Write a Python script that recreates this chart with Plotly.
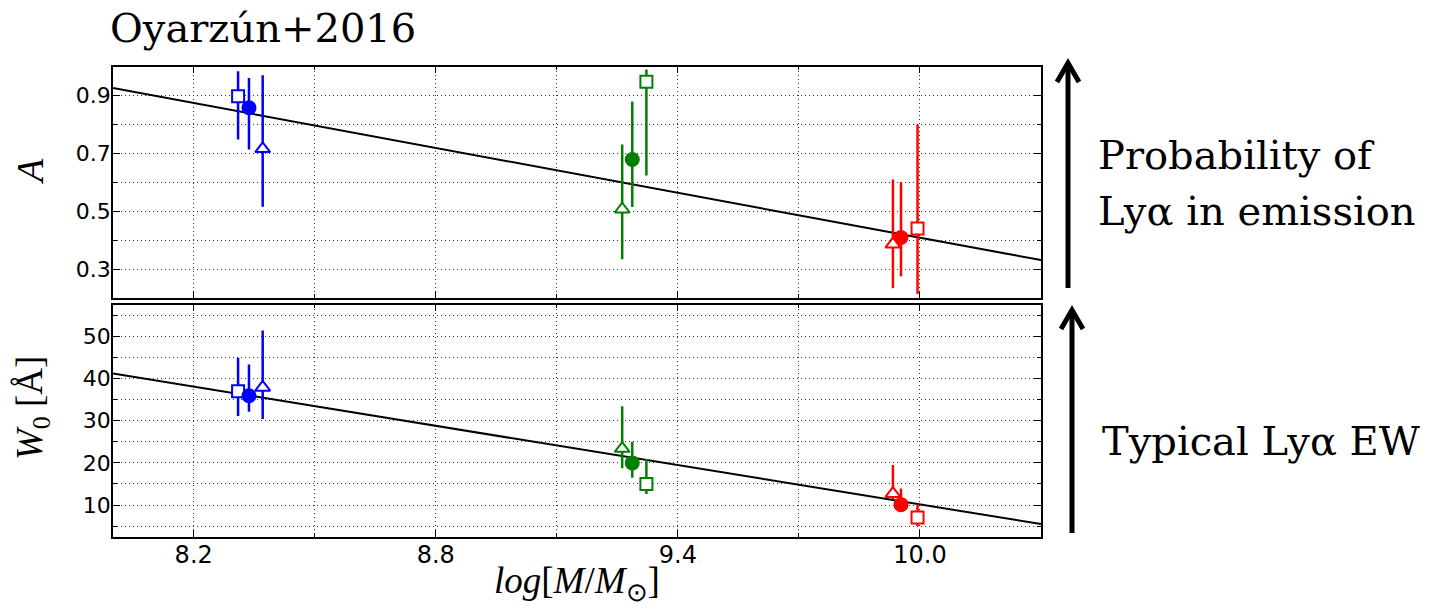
import plotly.graph_objects as go

# ---- data ---------------------------------------------------------------
bin_colors = ["#0000ff", "#008000", "#ff0000"]

# stellar mass of each bin for the three samples
logM_square = [8.310, 9.322, 9.994]
logM_circle = [8.337, 9.287, 9.953]
logM_triangle = [8.371, 9.262, 9.933]

# A : fraction of Lya emitters
A_square = [0.898, 0.948, 0.440]
A_square_hi = [0.984, 0.990, 0.800]
A_square_lo = [0.748, 0.624, 0.214]
A_circle = [0.858, 0.679, 0.409]
A_circle_hi = [0.961, 0.880, 0.601]
A_circle_lo = [0.714, 0.515, 0.275]
A_triangle = [0.716, 0.507, 0.386]
A_triangle_hi = [0.970, 0.731, 0.610]
A_triangle_lo = [0.516, 0.334, 0.234]

# W0 : e-folding rest-frame equivalent width [Angstrom]
W_square = [37.0, 15.0, 7.05]
W_square_hi = [44.9, 20.9, 10.2]
W_square_lo = [31.1, 12.6, 5.0]
W_circle = [35.9, 20.0, 10.1]
W_circle_hi = [43.3, 25.0, 13.9]
W_circle_lo = [32.1, 16.5, 8.8]
W_triangle = [37.9, 23.4, 12.7]
W_triangle_hi = [51.4, 33.4, 19.5]
W_triangle_lo = [30.4, 18.7, 11.4]

# linear relations with mass
fit_logM = [8.0, 10.3]
A_fit = [0.926, 0.331]
W_fit = [41.2, 5.5]

x_ticks = [8.2, 8.8, 9.4, 10.0]
x_ticktext = ["8.2", "8.8", "9.4", "10.0"]
A_ticks = [0.3, 0.5, 0.7, 0.9]
W_ticks = [10, 20, 30, 40, 50]

# ---- layout helpers -------------------------------------------------------
FW, FH = 1429, 609


def px(x):
    return x / FW


def py(y):
    return 1 - y / FH


fig = go.Figure()

samples_A = [
    (logM_square, A_square, A_square_hi, A_square_lo, "square", 12),
    (logM_circle, A_circle, A_circle_hi, A_circle_lo, "circle", 15),
    (logM_triangle, A_triangle, A_triangle_hi, A_triangle_lo, "triangle-up", 13),
]
samples_W = [
    (logM_square, W_square, W_square_hi, W_square_lo, "square", 12),
    (logM_circle, W_circle, W_circle_hi, W_circle_lo, "circle", 15),
    (logM_triangle, W_triangle, W_triangle_hi, W_triangle_lo, "triangle-up", 13),
]

# fit lines first so the points sit on top
fig.add_trace(go.Scatter(x=fit_logM, y=A_fit, mode="lines",
                         line=dict(color="black", width=2),
                         xaxis="x", yaxis="y", showlegend=False))
fig.add_trace(go.Scatter(x=fit_logM, y=W_fit, mode="lines",
                         line=dict(color="black", width=2),
                         xaxis="x2", yaxis="y2", showlegend=False))


def add_points(samples, xa, ya):
    for xs, ys, his, los, sym, size in samples:
        for i, c in enumerate(bin_colors):
            filled = sym == "circle"
            fig.add_trace(go.Scatter(
                x=[xs[i]], y=[ys[i]], mode="markers",
                marker=dict(symbol=sym, size=size,
                            color=c if filled else "white",
                            line=dict(color=c, width=0 if filled else 2)),
                error_y=dict(type="data", symmetric=False,
                             array=[his[i] - ys[i]],
                             arrayminus=[ys[i] - los[i]],
                             color=c, thickness=2.5, width=0),
                xaxis=xa, yaxis=ya, showlegend=False))


add_points(samples_A, "x", "y")
add_points(samples_W, "x2", "y2")

ytickfont = dict(family="DejaVu Sans", size=22, color="black")
xtickfont = dict(family="DejaVu Sans", size=24, color="black")
GRIDC = "#333333"
GDASH = "1px,3px"
grid = dict(showgrid=True, gridcolor=GRIDC, gridwidth=1, griddash=GDASH)
frame = dict(showline=True, linecolor="black", linewidth=1.5, mirror="ticks",
             ticks="inside", ticklen=7, tickcolor="black", zeroline=False)


def minor(dtick, tick0):
    return dict(dtick=dtick, tick0=tick0, showgrid=True, gridcolor=GRIDC,
                griddash=GDASH, ticks="inside", ticklen=4, tickcolor="black")


xdom = [px(113), px(1041)]
fig.update_layout(
    width=FW, height=FH,
    margin=dict(l=0, r=0, t=0, b=0),
    paper_bgcolor="white", plot_bgcolor="white",
    showlegend=False,
    xaxis=dict(domain=xdom, anchor="y", range=[8.0, 10.3],
               tickvals=x_ticks, showticklabels=False,
               minor=minor(0.3, 8.2), **grid, **frame),
    yaxis=dict(domain=[py(298), py(66.7)], anchor="x", range=[0.2, 1.0],
               tickvals=A_ticks, tickfont=ytickfont, ticklabelstandoff=-4,
               minor=minor(0.1, 0.2), **grid, **frame),
    xaxis2=dict(domain=xdom, anchor="y2", range=[8.0, 10.3],
                tickvals=x_ticks, ticktext=x_ticktext,
                tickfont=xtickfont, ticklabelstandoff=-4,
                minor=minor(0.3, 8.2), **grid, **frame),
    yaxis2=dict(domain=[py(536.7), py(304.7)], anchor="x2", range=[2.5, 57.5],
                tickvals=W_ticks, tickfont=ytickfont, ticklabelstandoff=-4,
                minor=minor(5, 0), **grid, **frame),
)

serif = "Liberation Serif"
label_font = "DejaVu Serif"
annotations = [
    # title
    dict(x=px(108), y=py(28), text="Oyarzún+2016", xanchor="left", yanchor="middle",
         font=dict(family=label_font, size=40, color="black")),
    # axis titles
    dict(x=px(30), y=py(172), text="<i>A</i>", textangle=-90,
         xanchor="center", yanchor="middle",
         font=dict(family=serif, size=38, color="black")),
    dict(x=px(32), y=py(408), text="<i>W</i><sub>0</sub> [Å]", textangle=-90,
         xanchor="center", yanchor="middle",
         font=dict(family=serif, size=37, color="black")),
    dict(x=px(577), y=py(583), text="<i>log</i>[<i>M</i>/<i>M</i><sub>⊙</sub>]",
         xanchor="center", yanchor="middle",
         font=dict(family=serif, size=37, color="black")),
    # right-hand notes
    dict(x=px(1096), y=py(155), text="Probability of", xanchor="left", yanchor="middle",
         font=dict(family=label_font, size=40, color="black")),
    dict(x=px(1096), y=py(211), text="Lyα in emission", xanchor="left", yanchor="middle",
         font=dict(family=label_font, size=40, color="black")),
    dict(x=px(1100), y=py(441), text="Typical Lyα EW", xanchor="left", yanchor="middle",
         font=dict(family=label_font, size=40, color="black")),
]
for a in annotations:
    a.update(xref="paper", yref="paper", showarrow=False)
fig.update_layout(annotations=annotations)


# upward arrows beside the panels
def arrow(x, y_tip, y_tail):
    shaft = dict(type="line", xref="paper", yref="paper",
                 x0=px(x), x1=px(x), y0=py(y_tail), y1=py(y_tip + 2),
                 line=dict(color="black", width=5))
    head = dict(type="path", xref="paper", yref="paper",
                path=(f"M {px(x - 11)},{py(y_tip + 19)} L {px(x)},{py(y_tip)} "
                      f"L {px(x + 11)},{py(y_tip + 19)}"),
                line=dict(color="black", width=5))
    return [shaft, head]


fig.update_layout(shapes=arrow(1068, 63, 288) + arrow(1072, 310, 533))

fig.write_html("out.html")
